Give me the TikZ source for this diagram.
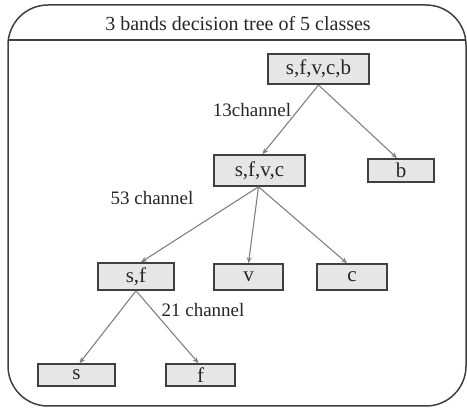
\documentclass[tikz,border=0pt]{standalone}
\usepackage{fontspec}
\setmainfont{Liberation Serif}
\usetikzlibrary{arrows.meta}
\definecolor{boxgray}{HTML}{E6E6E6}
\definecolor{linegray}{HTML}{808080}
\definecolor{framegray}{HTML}{404040}
\tikzset{
    classbox/.style={draw=framegray, line width=1.6pt, fill=boxgray, inner sep=0pt,
        font=\fontsize{21}{22}\selectfont, text=black!85},
    branch/.style={draw=linegray, line width=1.1pt, -{Stealth[length=6pt,width=5pt]}},
    chlabel/.style={font=\fontsize{19}{20}\selectfont, text=black!85, inner sep=0pt}
}
\begin{document}
\begin{tikzpicture}[x=1pt, y=-1pt]
        \useasboundingbox (0,0) rectangle (467,409);
        % frame and title
        \draw [framegray, line width=1.5pt, rounded corners=40pt] (8,5) rectangle (466,406);
        \draw [framegray, line width=1.5pt] (8,40) -- (466,40);
        \node [chlabel, font=\fontsize{20}{21}\selectfont] (title) at (238,24) {3 bands decision tree of 5 classes};
        % classes
        \node [classbox, line width=2pt, minimum width=101pt, minimum height=30pt] (sfvcb) at (318.5,69) {s,f,v,c,b};
        \node [classbox, minimum width=91pt, minimum height=31pt] (sfvc) at (259.5,170.5) {s,f,v,c};
        \node [classbox, minimum width=66pt, minimum height=23pt] (b) at (401,170.5) {b};
        \node [classbox, minimum width=76pt, minimum height=27pt] (sf) at (136,276.5) {s,f};
        \node [classbox, minimum width=69pt, minimum height=26pt] (v) at (248.5,277) {v};
        \node [classbox, minimum width=70pt, minimum height=26pt] (c) at (352,277) {c};
        \node [classbox, minimum width=77pt, minimum height=22pt] (s) at (76.5,375) {s};
        \node [classbox, minimum width=69pt, minimum height=22pt] (f) at (200.5,375) {f};
        % channel labels
        \node [chlabel] (ch13) at (252,110) {13channel};
        \node [chlabel] (ch53) at (152,198) {53 channel};
        \node [chlabel] (ch21) at (203,310) {21 channel};
        % branches
        \draw [branch] (sfvcb.south) -- ([xshift=3pt]sfvc.north);
        \draw [branch] (sfvcb.south) -- ([xshift=-4pt]b.north);
        \draw [branch] ([xshift=-1pt]sfvc.south) -- ([xshift=5pt]sf.north);
        \draw [branch] ([xshift=-1pt]sfvc.south) -- (v.north);
        \draw [branch] ([xshift=-1pt]sfvc.south) -- ([xshift=-5pt]c.north);
        \draw [branch] (sf.south) -- ([xshift=3pt]s.north);
        \draw [branch] (sf.south) -- ([xshift=-2pt]f.north);
    \end{tikzpicture}
\end{document}
